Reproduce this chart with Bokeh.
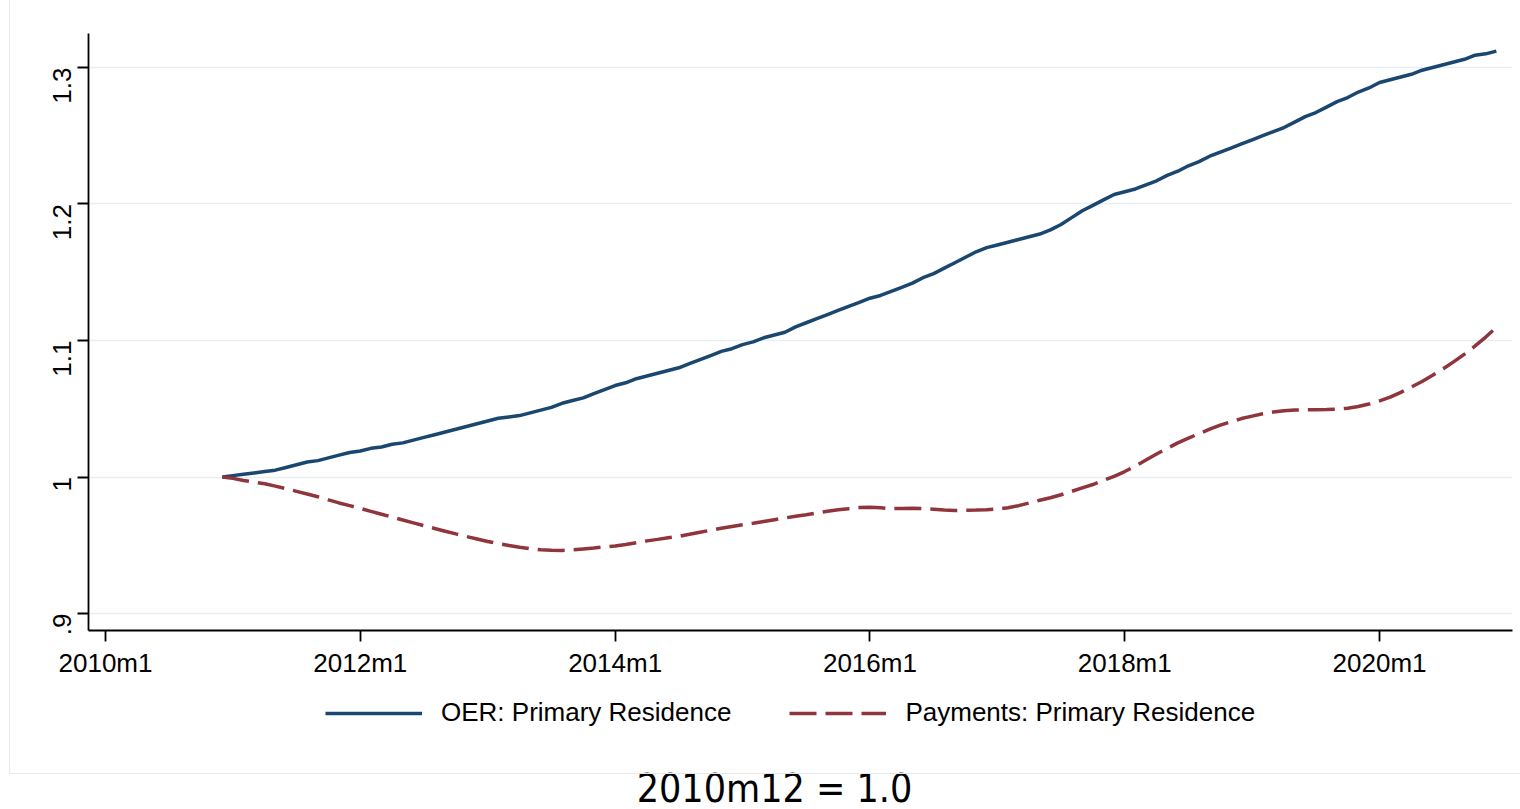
import math

from bokeh.plotting import figure
from bokeh.layouts import column
from bokeh.models import (Range1d, FixedTicker, Legend, LegendItem, Label,
                          InlineStyleSheet)
from bokeh.embed import file_html
from bokeh.resources import INLINE

# Monthly index series, 2010m12 = 1.0, running through 2020m12
first_month = "2010m12"

oer = [
    1.000, 1.001, 1.002, 1.003, 1.004, 1.005, 1.007, 1.009, 1.011, 1.012,
    1.014, 1.016, 1.018, 1.019, 1.021, 1.022, 1.024, 1.025, 1.027, 1.029,
    1.031, 1.033, 1.035, 1.037, 1.039, 1.041, 1.043, 1.044, 1.045, 1.047,
    1.049, 1.051, 1.054, 1.056, 1.058, 1.061, 1.064, 1.067, 1.069, 1.072,
    1.074, 1.076, 1.078, 1.080, 1.083, 1.086, 1.089, 1.092, 1.094, 1.097,
    1.099, 1.102, 1.104, 1.106, 1.110, 1.113, 1.116, 1.119, 1.122, 1.125,
    1.128, 1.131, 1.133, 1.136, 1.139, 1.142, 1.146, 1.149, 1.153, 1.157,
    1.161, 1.165, 1.168, 1.170, 1.172, 1.174, 1.176, 1.178, 1.181, 1.185,
    1.190, 1.195, 1.199, 1.203, 1.207, 1.209, 1.211, 1.214, 1.217, 1.221,
    1.224, 1.228, 1.231, 1.235, 1.238, 1.241, 1.244, 1.247, 1.250, 1.253,
    1.256, 1.260, 1.264, 1.267, 1.271, 1.275, 1.278, 1.282, 1.285, 1.289,
    1.291, 1.293, 1.295, 1.298, 1.300, 1.302, 1.304, 1.306, 1.309, 1.310,
    1.312,
]

payments = [
    1.0000, 0.9990, 0.9975, 0.9963, 0.9950, 0.9933, 0.9915, 0.9895, 0.9875, 0.9855,
    0.9832, 0.9810, 0.9790, 0.9770, 0.9748, 0.9727, 0.9706, 0.9685, 0.9664, 0.9643,
    0.9623, 0.9603, 0.9583, 0.9564, 0.9546, 0.9528, 0.9512, 0.9498, 0.9486, 0.9475,
    0.9467, 0.9463, 0.9462, 0.9466, 0.9473, 0.9480, 0.9488, 0.9495, 0.9505, 0.9518,
    0.9532, 0.9543, 0.9555, 0.9566, 0.9580, 0.9595, 0.9610, 0.9625, 0.9638, 0.9650,
    0.9661, 0.9674, 0.9687, 0.9700, 0.9712, 0.9724, 0.9737, 0.9749, 0.9760, 0.9768,
    0.9776, 0.9779, 0.9775, 0.9768, 0.9770, 0.9771, 0.9768, 0.9764, 0.9758, 0.9755,
    0.9757, 0.9758, 0.9760, 0.9765, 0.9775, 0.9790, 0.9810, 0.9830, 0.9848, 0.9870,
    0.9895, 0.9920, 0.9945, 0.9975, 1.0005, 1.0040, 1.0080, 1.0125, 1.0168, 1.0210,
    1.0250, 1.0285, 1.0318, 1.0350, 1.0380, 1.0405, 1.0428, 1.0446, 1.0463, 1.0476,
    1.0485, 1.0490, 1.0492, 1.0493, 1.0494, 1.0496, 1.0504, 1.0516, 1.0535, 1.0558,
    1.0585, 1.0620, 1.0660, 1.0700, 1.0745, 1.0793, 1.0845, 1.0900, 1.0960, 1.1025,
    1.1097,
]

series_labels = ["OER: Primary Residence", "Payments: Primary Residence"]
x_tick_labels = ["2010m1", "2012m1", "2014m1", "2016m1", "2018m1", "2020m1"]
y_tick_values = [0.9, 1.0, 1.1, 1.2, 1.3]
y_tick_labels = [".9", "1", "1.1", "1.2", "1.3"]
note_text = "2010m12 = 1.0"


def month_number(label):
    """Stata-style monthly date: months since 1960m1."""
    year, month = label.split("m")
    return (int(year) - 1960) * 12 + int(month) - 1


start = month_number(first_month)
months = [start + i for i in range(len(oer))]
x_ticks = [month_number(s) for s in x_tick_labels]

NAVY = "#1a476f"
MAROON = "#90353b"
GRID = "#e6eef1"
EDGE = "#e3eaee"
FONT = "Liberation Sans"
LINE_W = 3.5
DASH = "27 9"

W = 1520
TOP_H = 680
BOTTOM_H = 129
LEFT_B = 88
RIGHT_B = 8
X_RANGE = (598.40, 732.52)


def region_edge(height, bottom_edge):
    """Faint left (and optionally bottom) edge of the graph region."""
    bottom = f"border-bottom: 1px solid {EDGE};" if bottom_edge else ""
    return InlineStyleSheet(css=f"""
:host::after {{
  content: "";
  position: absolute;
  left: 9px;
  top: 0px;
  width: {W - 9}px;
  height: {height}px;
  box-sizing: border-box;
  border-left: 1px solid {EDGE};
  {bottom}
  pointer-events: none;
}}
""")


# ---- main plot -------------------------------------------------------------
p = figure(
    width=W,
    height=TOP_H,
    output_backend="svg",
    toolbar_location=None,
    x_range=Range1d(*X_RANGE),
    y_range=Range1d(0.88755, 1.3249),
    min_border_left=LEFT_B,
    min_border_right=RIGHT_B,
    min_border_top=33,
    min_border_bottom=50,
    background_fill_color="white",
    border_fill_color="white",
    outline_line_color=None,
    stylesheets=[region_edge(TOP_H, False)],
)

p.line(months, oer, line_color=NAVY, line_width=LINE_W)
p.line(months, payments, line_color=MAROON, line_width=LINE_W, line_dash=DASH)

p.xaxis.ticker = FixedTicker(ticks=x_ticks)
p.xaxis.major_label_overrides = {t: s for t, s in zip(x_ticks, x_tick_labels)}
p.yaxis.ticker = FixedTicker(ticks=y_tick_values)
p.yaxis.major_label_overrides = {t: s for t, s in zip(y_tick_values, y_tick_labels)}
p.yaxis.major_label_orientation = math.pi / 2

for ax in (p.xaxis[0], p.yaxis[0]):
    ax.axis_line_color = "black"
    ax.axis_line_width = 1.8
    ax.major_tick_line_color = "black"
    ax.major_tick_line_width = 1.8
    ax.major_tick_out = 11
    ax.major_tick_in = 0
    ax.minor_tick_line_color = None
    ax.major_label_text_font = FONT
    ax.major_label_text_font_size = "26px"
    ax.major_label_text_color = "black"
p.xaxis.major_label_standoff = 6
p.yaxis.major_label_standoff = 15

p.xgrid.grid_line_color = None
p.ygrid.ticker = FixedTicker(ticks=y_tick_values)
p.ygrid.grid_line_color = GRID
p.ygrid.grid_line_width = 1.6

# ---- legend and note strip -------------------------------------------------
# Same month axis as above; the value range sits away from the series so the
# key renderers only feed the legend swatches.
k = figure(
    width=W,
    height=BOTTOM_H,
    output_backend="svg",
    toolbar_location=None,
    x_range=Range1d(*X_RANGE),
    y_range=Range1d(2.0, 3.0),
    x_axis_type=None,
    y_axis_type=None,
    min_border_left=LEFT_B,
    min_border_right=RIGHT_B,
    min_border_top=0,
    min_border_bottom=0,
    background_fill_color="white",
    border_fill_color="white",
    outline_line_color=None,
    stylesheets=[region_edge(94, True)],
)
k.grid.grid_line_color = None

key_oer = k.line(months, oer, line_color=NAVY, line_width=LINE_W)
key_pay = k.line(months, payments, line_color=MAROON, line_width=LINE_W,
                 line_dash=DASH)

legend = Legend(
    items=[
        LegendItem(label=series_labels[0], renderers=[key_oer]),
        LegendItem(label=series_labels[1], renderers=[key_pay]),
    ],
    orientation="horizontal",
    location=(325 - LEFT_B, 81),
    glyph_width=97,
    glyph_height=26,
    label_standoff=19,
    spacing=58,
    padding=0,
    margin=0,
    border_line_color=None,
    background_fill_alpha=0,
    label_text_font=FONT,
    label_text_font_size="26px",
    label_text_color="black",
)
k.add_layout(legend)

k.add_layout(Label(
    x=774 - LEFT_B, y=21, x_units="screen", y_units="screen",
    text=note_text, text_align="center", text_baseline="alphabetic",
    text_font="DejaVu Sans Condensed", text_font_size="39px",
    text_color="black",
))

open("out.html", "w").write(file_html(column(p, k, spacing=0), INLINE))
